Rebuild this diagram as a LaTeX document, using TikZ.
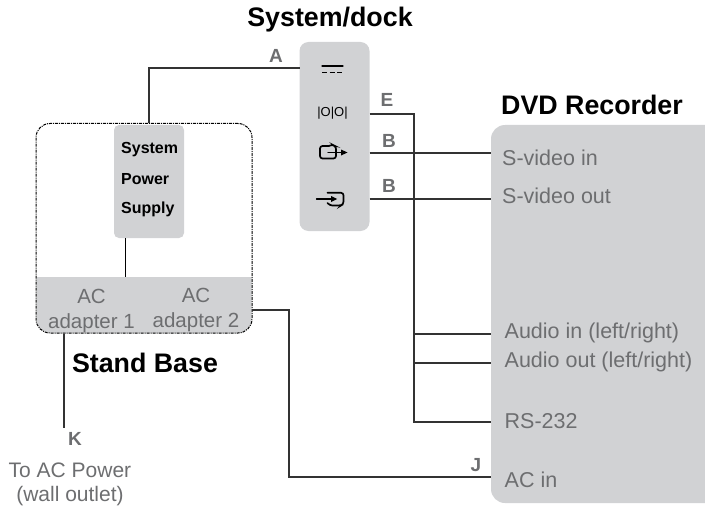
\documentclass[tikz,border=0pt]{standalone}
\usepackage{fontspec}
\setmainfont{Liberation Sans}
\definecolor{panel}{HTML}{D1D2D4}
\definecolor{greytxt}{HTML}{6D6E70}
\definecolor{wire}{HTML}{333333}
\tikzset{
  panelbox/.style={fill=panel,draw=none,rounded corners=#1},
  wireline/.style={draw=wire,line width=1.3pt},
  head/.style={font=\fontsize{26.8}{30}\selectfont\bfseries,text=black,inner sep=0pt},
  port/.style={font=\fontsize{21.5}{25}\selectfont,text=greytxt,anchor=west,inner sep=0pt},
  letter/.style={font=\fontsize{19}{22}\selectfont\bfseries,text=greytxt,inner sep=0pt},
  supply/.style={font=\fontsize{16}{19}\selectfont\bfseries,text=black,anchor=west,inner sep=0pt},
  adapter/.style={font=\fontsize{20.5}{24}\selectfont,text=greytxt,align=center,inner sep=0pt},
  plain/.style={font=\fontsize{21}{24.5}\selectfont,text=greytxt,align=center,inner sep=0pt},
  icon/.style={draw=black,line width=1.3pt,line cap=round},
}
\begin{document}
\begin{tikzpicture}[x=1pt,y=-1pt]
\useasboundingbox (0,0) rectangle (705,511);
% stand base
\fill[panel] (36.5,277) -- (251.5,277) [rounded corners=14pt] -- (251.5,333) -- (36.5,333) [sharp corners] -- cycle;
\node[minimum width=216pt,minimum height=209.5pt,inner sep=0pt,draw=black,line width=1pt,densely dashdotted,rounded corners=14pt] (base) at (144,228.25) {};
% panels
\node[panelbox=9pt,minimum width=70pt,minimum height=189pt,inner sep=0pt] (dock) at (334.5,136.5) {};
\node[panelbox=5pt,minimum width=70pt,minimum height=113pt,inner sep=0pt] (psu) at (149,181.5) {};
\fill[panel,rounded corners=14pt] (491,125) rectangle (720,503);
% texts
\node[head] (t1) at (330,20) {System/dock};
\node[head] (t2) at (592,105) {DVD Recorder};
\node[head] (t3) at (145,363) {Stand Base};
\node[supply] (s1) at (121,150) {System};
\node[supply] (s2) at (121,179.5) {Power};
\node[supply] (s3) at (121,209.5) {Supply};
\node[adapter] (a1) at (91.5,311) {AC\\[1pt]adapter 1};
\node[adapter] (a2) at (196,309.5) {AC\\[1pt]adapter 2};
\node[port] (svin) at (502,158) {S-video in};
\node[port] (svout) at (502,196) {S-video out};
\node[port] (ain) at (504.5,333) {Audio in (left/right)};
\node[port] (aout) at (504.5,362) {Audio out (left/right)};
\node[port] (rs) at (504.5,421) {RS-232};
\node[port] (acin) at (504.5,480) {AC in};
\node[letter] at (276,56) {A};
\node[letter] at (387,100) {E};
\node[letter] at (389,141) {B};
\node[letter] at (389,186) {B};
\node[letter] at (476,465) {J};
\node[letter] at (75,439) {K};
\node[plain] (wall) at (70,484.5) {To AC Power\\(wall outlet)};
% connectors
\coordinate (pe) at (369.5,114);
\coordinate (pj) at (414,114);
\coordinate (pa) at (299.5,68);
\draw[wireline] (base.north -| psu) -- (149,68) -- (pa);
\draw[wireline] (pe) -- (pj) -- (414,422) -- (491,422);
\draw[wireline] (369.5,153) -- (491,153);
\draw[wireline] (369.5,199) -- (491,199);
\draw[wireline] (414,334) -- (491,334);
\draw[wireline] (414,363) -- (491,363);
\draw[wireline] (252,310) -- (289,310) -- (289,477) -- (491,477);
\draw[wireline] (64,333.5) -- (64,428);
\draw[draw=black,line width=1pt] (125.5,238) -- (125.5,277);
% icons
\draw[icon] (322,66) -- (343,66);
\draw[icon,dash pattern=on 5pt off 2.5pt,line cap=butt] (322,72.5) -- (343,72.5);
\node[font=\fontsize{13}{14}\selectfont,text=black,inner sep=0pt] (avi) at (332.5,113.5) {|O|O|};
\draw[icon,rounded corners=2.5pt,line width=1.7pt] (329,146) -- (320,146) -- (320,158.5) -- (336,158.5) -- (336,146.5) -- (332,144.5) -- (329,146);
\draw[icon] (328,152.5) -- (343,152.5);
\fill (347.5,152.5) -- (341,149.5) -- (341,155.5) -- cycle;
\draw[icon,rounded corners=2.5pt,line width=1.7pt] (327.5,192.8) -- (343.5,192.8) -- (343.5,204) -- (341,205.5) -- (330,205.5) -- (327.5,203);
\draw[icon] (316.5,199) -- (335,199);
\fill (337,199) -- (331,196) -- (331,202) -- cycle;
\end{tikzpicture}
\end{document}
